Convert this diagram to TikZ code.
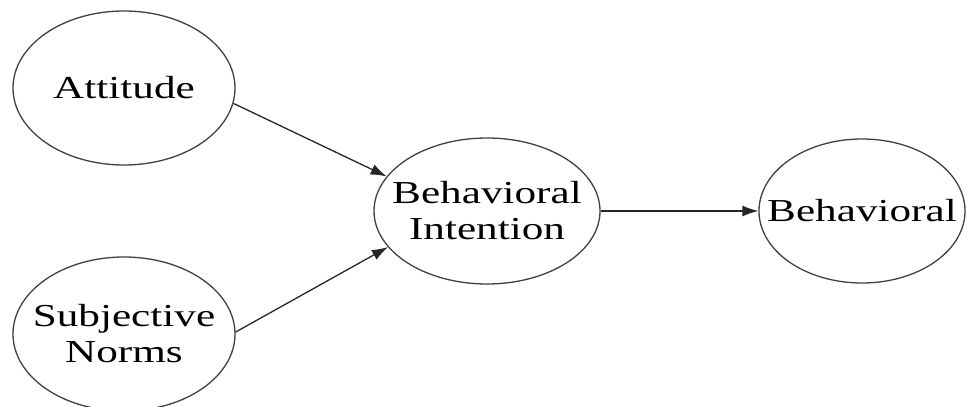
\documentclass[tikz,border=0pt]{standalone}
\usepackage{fontspec}
\setmainfont[FakeStretch=1.35]{Liberation Serif}
\usetikzlibrary{shapes.geometric,arrows.meta}
\begin{document}
\begin{tikzpicture}[x=1pt,y=1pt,
  oval/.style={draw=black!75,line width=1.3pt,ellipse,inner sep=0pt},
  txt/.style={align=center,inner sep=0pt,font=\fontsize{32}{36}\selectfont},
  link/.style={draw=black!85,line width=1.3pt,-{Latex[length=16pt,width=11pt]}}]
\useasboundingbox (0,0) rectangle (970,407);
\node[oval,minimum width=222pt,minimum height=154pt,label={[txt]center:Attitude}] (att) at (124,319) {};
\node[oval,minimum width=222pt,minimum height=154pt,label={[txt]center:Subjective\\Norms}] (sn) at (124,73) {};
\node[oval,minimum width=226pt,minimum height=146pt,label={[txt]center:Behavioral\\Intention}] (bi) at (487,196) {};
\node[oval,minimum width=206pt,minimum height=144pt,label={[txt]center:Behavioral}] (b) at (862,196) {};
\draw[link] (att.-8) -- (bi.161);
\draw[link] (sn.1) -- (bi.200);
\draw[link] (bi.east) -- (b.west);
\end{tikzpicture}
\end{document}
